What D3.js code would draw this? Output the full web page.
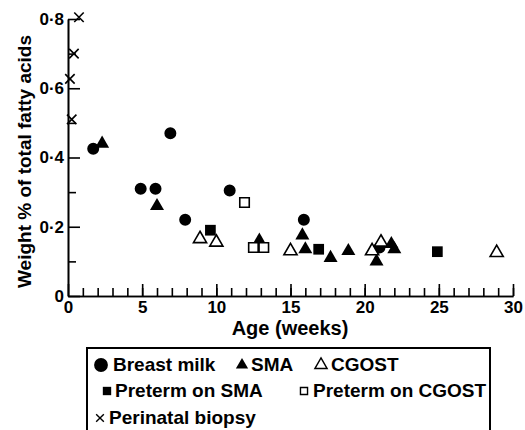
<!DOCTYPE html>
<html>
<head>
<meta charset="utf-8">
<script src="https://cdn.jsdelivr.net/npm/d3@7"></script>
<style>
  body { margin: 0; background: #fff; }
  svg { display: block; font-family: "Liberation Sans", Arial, sans-serif; }
  .axis path, .axis line { stroke: #000; stroke-width: 1.6; }
  .axis text { font-size: 17px; font-weight: bold; fill: #000; }
  .lbl { font-size: 20px; font-weight: bold; fill: #000; }
  .leg text { font-size: 19px; font-weight: bold; fill: #000; }
</style>
</head>
<body>
<svg width="525" height="430"></svg>
<script>
// data (age in weeks, weight % of total fatty acids)
const breastMilk = [[1.7, 0.425], [4.9, 0.31], [5.9, 0.31], [6.9, 0.47], [7.9, 0.22], [10.9, 0.305], [15.9, 0.22], [21.0, 0.14]];
const sma = [[2.3, 0.44], [6.0, 0.26], [12.9, 0.16], [15.8, 0.175], [16.0, 0.135], [17.7, 0.11], [18.9, 0.13], [20.8, 0.10], [21.8, 0.15], [22.0, 0.135]];
const cgost = [[8.9, 0.165], [10.0, 0.155], [15.0, 0.13], [20.5, 0.13], [21.1, 0.155], [28.9, 0.125]];
const pretermSma = [[9.6, 0.19], [16.9, 0.135], [24.9, 0.128]];
const pretermCgost = [[11.9, 0.27], [12.5, 0.14], [13.2, 0.14]];
const perinatal = [[0.74, 0.805], [0.4, 0.70], [0.13, 0.627], [0.25, 0.51]];

const xTicks = [0, 5, 10, 15, 20, 25, 30];
const yTicks = [0, 0.2, 0.4, 0.6, 0.8];

const svg = d3.select('svg');

const x = d3.scaleLinear().domain([0, 30]).range([68, 513]);
const y = d3.scaleLinear().domain([0, 0.8]).range([296, 19]);

const fmtY = d => d === 0 ? '0' : d3.format('.1f')(d).replace('.', '\u00b7');

// minor ticks
svg.append('g')
  .attr('class', 'axis')
  .attr('transform', 'translate(0,' + y(0) + ')')
  .call(d3.axisBottom(x).tickValues(d3.range(1, 31)).tickSize(-8).tickSizeOuter(0).tickFormat(''));
svg.append('g')
  .attr('class', 'axis')
  .attr('transform', 'translate(' + x(0) + ',0)')
  .call(d3.axisLeft(y).tickValues([0.1, 0.3, 0.5, 0.7]).tickSize(-8).tickSizeOuter(0).tickFormat(''));

// major ticks
svg.append('g')
  .attr('class', 'axis')
  .attr('transform', 'translate(0,' + y(0) + ')')
  .call(d3.axisBottom(x).tickValues(xTicks).tickSize(-12).tickSizeOuter(0).tickPadding(5));
svg.append('g')
  .attr('class', 'axis')
  .attr('transform', 'translate(' + x(0) + ',0)')
  .call(d3.axisLeft(y).tickValues(yTicks).tickSize(-12).tickSizeOuter(0).tickPadding(4).tickFormat(fmtY));

svg.append('text')
  .attr('class', 'lbl')
  .style('font-size', '19px')
  .attr('transform', 'translate(31,' + ((y(0) + y(0.8)) / 2 + 4) + ') rotate(-90)')
  .attr('text-anchor', 'middle')
  .text('Weight % of total fatty acids');

svg.append('text')
  .attr('class', 'lbl')
  .attr('x', 290).attr('y', 335)
  .attr('text-anchor', 'middle')
  .text('Age (weeks)');

const series = [
  {data: breastMilk, type: d3.symbolCircle, size: 113, fill: '#000', stroke: 'none'},
  {data: sma, type: d3.symbolTriangle, size: 85, fill: '#000', stroke: 'none'},
  {data: cgost, type: d3.symbolTriangle, size: 75, fill: '#fff', stroke: '#000'},
  {data: pretermSma, type: d3.symbolSquare, size: 115, fill: '#000', stroke: 'none'},
  {data: pretermCgost, type: d3.symbolSquare, size: 90, fill: '#fff', stroke: '#000'},
  {data: perinatal, type: d3.symbolTimes, size: 60, fill: 'none', stroke: '#000'}
];

series.forEach(s => {
  svg.append('g').selectAll('path')
    .data(s.data)
    .enter()
    .append('path')
    .attr('transform', d => 'translate(' + x(d[0]) + ',' + y(d[1]) + ')')
    .attr('d', d3.symbol(s.type, s.size))
    .attr('fill', s.fill)
    .attr('stroke', s.stroke)
    .attr('stroke-width', 1.6);
});

// legend
const leg = svg.append('g').attr('class', 'leg');
leg.append('rect')
  .attr('x', 87).attr('y', 348).attr('width', 403).attr('height', 100)
  .attr('fill', 'none').attr('stroke', '#000').attr('stroke-width', 2);

const legItems = [
  {label: 'Breast milk', s: series[0], sx: 101, tx: 113, row: 0, size: 150},
  {label: 'SMA', s: series[1], sx: 242, tx: 251, row: 0, size: 65},
  {label: 'CGOST', s: series[2], sx: 321, tx: 331, row: 0, size: 65},
  {label: 'Preterm on SMA', s: series[3], sx: 107, tx: 115, row: 1, size: 70},
  {label: 'Preterm on CGOST', s: series[4], sx: 304, tx: 313, row: 1, size: 50},
  {label: 'Perinatal biopsy', s: series[5], sx: 100, tx: 109, row: 2, size: 40}
];
const rowY = [371, 397, 424];

legItems.forEach(it => {
  leg.append('path')
    .attr('transform', 'translate(' + it.sx + ',' + (rowY[it.row] - 6) + ')')
    .attr('d', d3.symbol(it.s.type, it.size))
    .attr('fill', it.s.fill)
    .attr('stroke', it.s.stroke)
    .attr('stroke-width', 1.4);
  leg.append('text')
    .attr('x', it.tx).attr('y', rowY[it.row])
    .text(it.label);
});
</script>
</body>
</html>
